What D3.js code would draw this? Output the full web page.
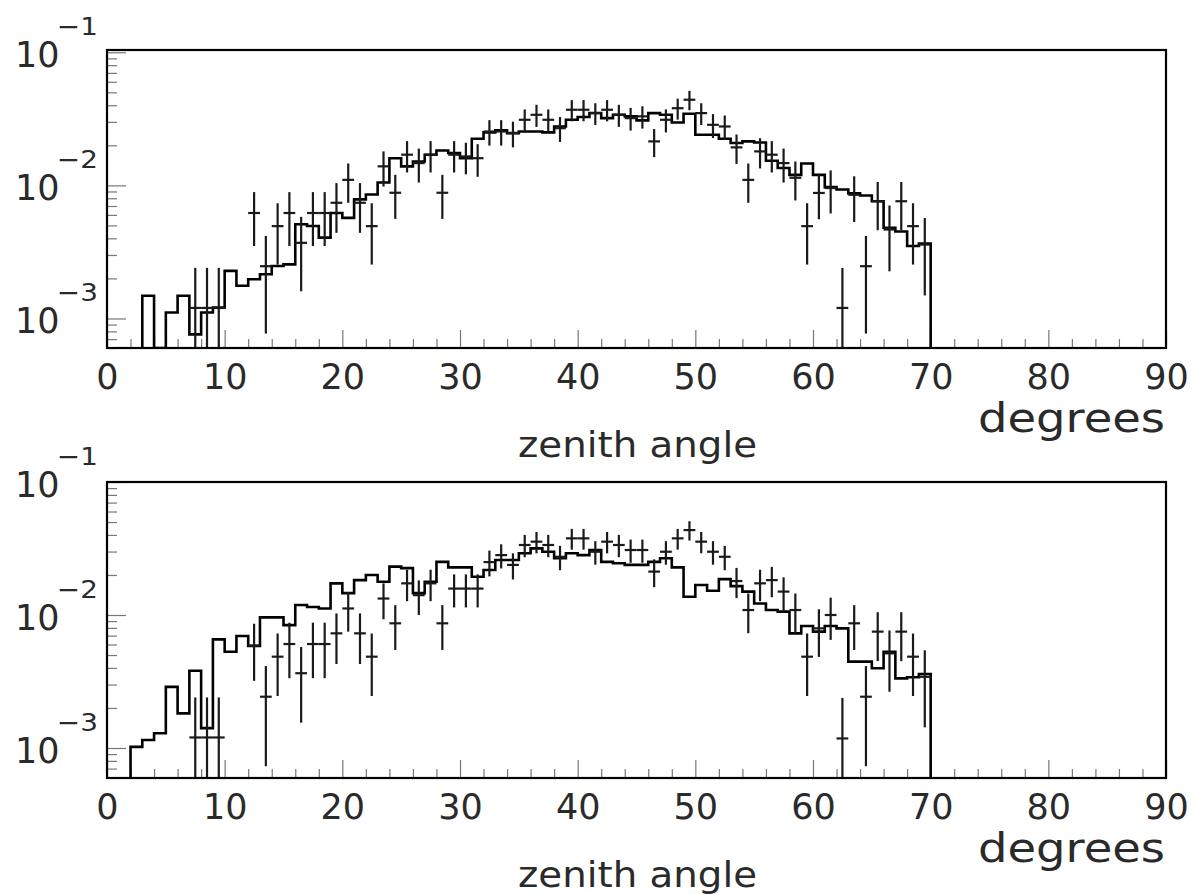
<!DOCTYPE html>
<html><head><meta charset="utf-8">
<script src="https://cdn.jsdelivr.net/npm/d3@7"></script>
<style>body{margin:0;background:#fff}svg{display:block}</style>
</head><body>
<svg id="c" width="1197" height="894"></svg>
<script>
// ---------------- data ----------------
// histogram bins: lower edges 0..69 degrees, width 1 degree
const binLowEdges = d3.range(0, 70);

// simulation histogram, upper panel
const mcTop = [0,0,0,1.48e-3,0,1.11e-3,1.48e-3,7.6e-4,1.11e-3,1.21e-3,
  2.28e-3,1.76e-3,1.97e-3,2.15e-3,2.48e-3,2.55e-3,5.1e-3,4.95e-3,4.05e-3,6.2e-3,
  5.7e-3,7.85e-3,8.55e-3,1.05e-2,1.6e-2,1.39e-2,1.51e-2,1.70e-2,1.83e-2,1.75e-2,
  1.60e-2,2.24e-2,2.50e-2,2.59e-2,2.47e-2,2.54e-2,2.54e-2,2.50e-2,2.77e-2,3.11e-2,
  3.26e-2,3.5e-2,3.2e-2,3.39e-2,3.3e-2,3.08e-2,3.49e-2,3.39e-2,2.97e-2,3.45e-2,
  2.4e-2,2.4e-2,2.24e-2,2.08e-2,2.14e-2,2.1e-2,1.53e-2,1.35e-2,1.2e-2,1.46e-2,
  1.2e-2,9.7e-3,9.3e-3,8.7e-3,8.4e-3,7.6e-3,4.8e-3,4.5e-3,3.5e-3,3.65e-3];

// simulation histogram, lower panel
const mcBottom = [0,0,1.02e-3,1.15e-3,1.29e-3,2.88e-3,1.82e-3,3.81e-3,1.41e-3,6.56e-3,
  5.3e-3,6.95e-3,5.85e-3,9.6e-3,9.6e-3,8.4e-3,1.19e-2,1.15e-2,1.12e-2,1.73e-2,
  1.46e-2,1.83e-2,2.0e-2,1.78e-2,2.31e-2,2.25e-2,1.46e-2,1.78e-2,2.51e-2,2.28e-2,
  2.28e-2,1.94e-2,2.18e-2,2.59e-2,2.59e-2,2.91e-2,3.17e-2,2.99e-2,2.67e-2,2.91e-2,
  2.82e-2,3.08e-2,2.51e-2,2.45e-2,2.38e-2,2.38e-2,2.51e-2,2.67e-2,2.28e-2,1.37e-2,
  1.68e-2,1.52e-2,1.86e-2,1.65e-2,1.5e-2,1.22e-2,1.09e-2,1.06e-2,7.28e-3,8.27e-3,
  7.5e-3,8.27e-3,7.94e-3,4.46e-3,4.46e-3,3.98e-3,5.3e-3,3.34e-3,3.4e-3,3.6e-3];

// measured points (bin centres, degrees)
const pointAngles = [7.5,8.5,9.5,12.5,13.5,14.5,15.5,16.5,17.5,18.5,19.5,20.5,21.5,
  22.5,23.5,24.5,25.5,26.5,27.5,28.5,29.5,30.5,31.5,32.5,33.5,34.5,35.5,36.5,37.5,
  38.5,39.5,40.5,41.5,42.5,43.5,44.5,45.5,46.5,47.5,48.5,49.5,50.5,51.5,52.5,53.5,
  54.5,55.5,56.5,57.5,58.5,59.5,60.5,61.5,62.5,63.5,64.5,65.5,66.5,67.5,68.5,69.5];

const dataTop = [1.2e-3,1.2e-3,1.2e-3,6.2e-3,2.47e-3,4.94e-3,6.2e-3,3.7e-3,6.2e-3,6.2e-3,7.4e-3,1.1e-2,7.4e-3,
  4.94e-3,1.39e-2,8.8e-3,1.70e-2,1.47e-2,1.70e-2,8.8e-3,1.70e-2,1.65e-2,1.6e-2,2.54e-2,2.54e-2,2.47e-2,3.11e-2,3.39e-2,3.11e-2,
  2.69e-2,3.7e-2,3.7e-2,3.49e-2,3.7e-2,3.39e-2,3.2e-2,3.3e-2,2.14e-2,3.11e-2,3.8e-2,4.4e-2,3.49e-2,2.85e-2,2.77e-2,1.93e-2,
  1.1e-2,1.8e-2,1.7e-2,1.47e-2,1.14e-2,4.94e-3,8.77e-3,9.55e-3,1.2e-3,8.5e-3,2.47e-3,7.6e-3,4.66e-3,7.6e-3,4.94e-3,3.59e-3];
const errTop = [1.2e-3,1.2e-3,1.2e-3,2.7e-3,1.7e-3,2.4e-3,2.7e-3,2.1e-3,2.7e-3,2.7e-3,3.0e-3,3.6e-3,3.0e-3,
  2.4e-3,4.1e-3,3.2e-3,4.5e-3,4.2e-3,4.5e-3,3.2e-3,4.5e-3,4.4e-3,4.4e-3,5.5e-3,5.5e-3,5.4e-3,6.1e-3,6.4e-3,6.1e-3,
  5.7e-3,6.7e-3,6.7e-3,6.5e-3,6.7e-3,6.4e-3,6.2e-3,6.3e-3,5.1e-3,6.1e-3,6.8e-3,7.3e-3,6.5e-3,5.8e-3,5.8e-3,4.8e-3,
  3.6e-3,4.6e-3,4.5e-3,4.2e-3,3.7e-3,2.4e-3,3.2e-3,3.4e-3,1.2e-3,3.2e-3,1.7e-3,3.0e-3,2.4e-3,3.0e-3,2.4e-3,2.1e-3];

const dataBottom = [1.2e-3,1.2e-3,1.2e-3,5.9e-3,2.43e-3,4.86e-3,6.05e-3,3.65e-3,6.05e-3,6.05e-3,7.28e-3,1.12e-2,7.28e-3,
  4.86e-3,1.33e-2,8.66e-3,1.73e-2,1.41e-2,1.73e-2,8.66e-3,1.58e-2,1.58e-2,1.58e-2,2.5e-2,2.82e-2,2.38e-2,3.36e-2,3.56e-2,3.36e-2,
  2.74e-2,3.77e-2,3.77e-2,2.99e-2,3.56e-2,3.36e-2,3.08e-2,3.08e-2,2.12e-2,2.99e-2,3.77e-2,4.35e-2,3.56e-2,2.99e-2,2.74e-2,1.8e-2,
  1.09e-2,1.73e-2,1.83e-2,1.5e-2,1.09e-2,4.86e-3,7.94e-3,1.0e-2,1.18e-3,8.66e-3,2.43e-3,7.5e-3,5.15e-3,7.5e-3,4.86e-3,3.43e-3];
const errBottom = [1.2e-3,1.2e-3,1.2e-3,2.7e-3,1.7e-3,2.4e-3,2.7e-3,2.1e-3,2.7e-3,2.7e-3,3.0e-3,3.7e-3,3.0e-3,
  2.4e-3,4.0e-3,3.2e-3,4.6e-3,4.1e-3,4.6e-3,3.2e-3,4.4e-3,4.4e-3,4.4e-3,5.5e-3,5.8e-3,5.3e-3,6.4e-3,6.5e-3,6.4e-3,
  5.7e-3,6.7e-3,6.7e-3,6.0e-3,6.5e-3,6.4e-3,6.1e-3,6.1e-3,5.0e-3,6.0e-3,6.7e-3,7.2e-3,6.5e-3,6.0e-3,5.7e-3,4.6e-3,
  3.6e-3,4.6e-3,4.7e-3,4.2e-3,3.6e-3,2.4e-3,3.1e-3,3.5e-3,1.2e-3,3.2e-3,1.7e-3,3.0e-3,2.5e-3,3.0e-3,2.4e-3,2.0e-3];

// axis tick labels
const xTickLabels = [0,10,20,30,40,50,60,70,80,90];
const yDecadeExponents = [-1,-2,-3];
const xAxisTitle = "zenith angle";
const xUnitLabel = "degrees";

// ---------------- drawing ----------------
const svg = d3.select('#c');
const FONT = "DejaVu Sans, Liberation Sans, sans-serif";
const TXT = "#2a2a2a";
const L = 107, R = 1166;

const panels = [
  {top: 50, bottom: 348, ymin: 6.0e-4, ymax: 0.104, mc: mcTop, data: dataTop, err: errTop, id: 'p0'},
  {top: 482, bottom: 778, ymin: 5.95e-4, ymax: 0.1, mc: mcBottom, data: dataBottom, err: errBottom, id: 'p1'}
];

panels.forEach(p => {
  const x = d3.scaleLinear().domain([0, 90]).range([L, R]);
  const y = d3.scaleLog().domain([p.ymin, p.ymax]).range([p.bottom, p.top]).clamp(true);
  const g = svg.append('g');

  svg.append('clipPath').attr('id', 'clip' + p.id)
    .append('rect').attr('x', L).attr('y', p.top).attr('width', R - L).attr('height', p.bottom - p.top);

  // x ticks (minor + major), drawn inside, from the bottom
  const minorX = d3.range(0, 91, 2).filter(v => v % 10 !== 0);
  const axMinX = g.append('g').attr('transform', `translate(0,${p.bottom})`)
    .call(d3.axisBottom(x).tickValues(minorX).tickSize(-9).tickFormat(''));
  const axMajX = g.append('g').attr('transform', `translate(0,${p.bottom})`)
    .call(d3.axisBottom(x).tickValues(xTickLabels).tickSize(-18).tickPadding(16).tickFormat(d3.format('d')));
  [axMinX, axMajX].forEach(a => {
    a.select('.domain').remove();
    a.selectAll('line').attr('stroke', '#777').attr('stroke-width', 1.2);
  });
  axMajX.selectAll('text').attr('font-family', FONT).attr('font-size', 35).attr('fill', TXT);

  // y ticks (log)
  const decades = yDecadeExponents.map(e => Math.pow(10, e));
  const minorY = y.ticks().filter(v => {
    const m = v / Math.pow(10, Math.floor(Math.log10(v) + 1e-9));
    return Math.abs(m - 1) > 1e-6;
  });
  const axMinY = g.append('g').attr('transform', `translate(${L},0)`)
    .call(d3.axisLeft(y).tickValues(minorY).tickSize(-10).tickFormat(''));
  const axMajY = g.append('g').attr('transform', `translate(${L},0)`)
    .call(d3.axisLeft(y).tickValues(decades.filter(v => v >= p.ymin && v <= p.ymax)).tickSize(-19).tickFormat(''));
  [axMinY, axMajY].forEach(a => {
    a.select('.domain').remove();
    a.selectAll('line').attr('stroke', '#777').attr('stroke-width', 1.2);
  });

  // y labels 10^e
  yDecadeExponents.forEach(e => {
    const yy = y(Math.pow(10, e));
    g.append('text').attr('x', 15).attr('y', yy + 14.5)
      .attr('font-family', FONT).attr('font-size', 35).attr('fill', TXT).text('10');
    g.append('text').attr('x', 57).attr('y', yy - 17.5)
      .attr('font-family', FONT).attr('font-size', 25).attr('fill', TXT)
      .attr('textLength', 41).attr('lengthAdjust', 'spacingAndGlyphs')
      .text('\u2212' + Math.abs(e));
  });

  const plot = g.append('g').attr('clip-path', `url(#clip${p.id})`);

  // histogram (step line)
  const first = p.mc.findIndex(v => v > 0);
  let last = -1; p.mc.forEach((v, i) => { if (v > 0) last = i; });
  const pts = [[binLowEdges[first], p.ymin]];
  for (let i = first; i <= last; i++) {
    const v = p.mc[i] > 0 ? p.mc[i] : p.ymin;
    pts.push([binLowEdges[i], v], [binLowEdges[i] + 1, v]);
  }
  pts.push([binLowEdges[last] + 1, p.ymin]);
  plot.append('path').datum(pts)
    .attr('d', d3.line().x(d => x(d[0])).y(d => y(d[1])))
    .attr('fill', 'none').attr('stroke', '#000').attr('stroke-width', 2.6)
    .attr('stroke-linejoin', 'miter');

  // data points with error bars
  const pg = plot.append('g').attr('stroke', '#1a1a1a').attr('stroke-width', 2.2);
  pointAngles.forEach((a, i) => {
    const v = p.data[i], e = p.err[i];
    const lo = v - e > 0 ? v - e : p.ymin;
    pg.append('line').attr('x1', x(a)).attr('x2', x(a)).attr('y1', y(v + e)).attr('y2', y(lo));
    pg.append('line').attr('x1', x(a - 0.5)).attr('x2', x(a + 0.5)).attr('y1', y(v)).attr('y2', y(v));
  });

  // frame
  g.append('rect').attr('x', L).attr('y', p.top).attr('width', R - L).attr('height', p.bottom - p.top)
    .attr('fill', 'none').attr('stroke', '#000').attr('stroke-width', 2.2);

  // axis titles
  g.append('text').attr('x', 978).attr('y', p.bottom + 84)
    .attr('font-family', FONT).attr('font-size', 40).attr('fill', TXT)
    .attr('textLength', 187).attr('lengthAdjust', 'spacingAndGlyphs').text(xUnitLabel);
  g.append('text').attr('x', 518).attr('y', p.bottom + 109)
    .attr('font-family', FONT).attr('font-size', 35).attr('fill', TXT)
    .attr('textLength', 239).attr('lengthAdjust', 'spacingAndGlyphs').text(xAxisTitle);
});
</script>
</body></html>
